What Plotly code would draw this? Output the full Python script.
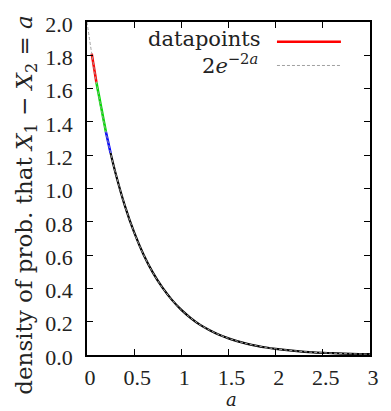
import plotly.graph_objects as go

# values
a_red = [0.05, 0.075, 0.10]
y_red = [1.810, 1.721, 1.637]
a_green = [0.10, 0.15, 0.20]
y_green = [1.637, 1.482, 1.341]
a_blue = [0.20, 0.25]
y_blue = [1.341, 1.213]
a_black = [0.25, 0.30, 0.40, 0.50, 0.60, 0.70, 0.80, 0.90, 1.00, 1.10, 1.20, 1.30,
           1.40, 1.50, 1.60, 1.70, 1.80, 1.90, 2.00, 2.20, 2.40, 2.60, 2.80, 3.00]
y_black = [1.213, 1.098, 0.899, 0.736, 0.602, 0.493, 0.404, 0.331, 0.271, 0.222, 0.181, 0.149,
           0.122, 0.100, 0.082, 0.067, 0.055, 0.045, 0.037, 0.025, 0.016, 0.011, 0.007, 0.005]
a_fit = [0.00, 0.05, 0.10, 0.15, 0.20, 0.25, 0.30, 0.40, 0.50, 0.60, 0.70, 0.80, 0.90, 1.00,
         1.10, 1.20, 1.30, 1.40, 1.50, 1.60, 1.70, 1.80, 1.90, 2.00, 2.20, 2.40, 2.60, 2.80, 3.00]
y_fit = [2.000, 1.810, 1.637, 1.482, 1.341, 1.213, 1.098, 0.899, 0.736, 0.602, 0.493, 0.404,
         0.331, 0.271, 0.222, 0.181, 0.149, 0.122, 0.100, 0.082, 0.067, 0.055, 0.045, 0.037,
         0.025, 0.016, 0.011, 0.007, 0.005]
x_ticks = [0, 0.5, 1, 1.5, 2, 2.5, 3]
x_ticklabels = ["0", "0.5", "1", "1.5", "2", "2.5", "3"]
y_ticks = [0.0, 0.2, 0.4, 0.6, 0.8, 1.0, 1.2, 1.4, 1.6, 1.8, 2.0]

TICKFONT = dict(family="Liberation Serif", size=22, color="#222")
TEXTFAM = "DejaVu Serif"
TXT = "#222"
W, H = 391, 411
L, R, T, B = 87, 12, 18, 56
pw, ph = W - L - R, H - T - B

fig = go.Figure()
fig.add_trace(go.Scatter(x=a_black, y=y_black, mode="lines", line=dict(color="black", width=2.2, shape="spline"), showlegend=False))
fig.add_trace(go.Scatter(x=a_red, y=y_red, mode="lines", line=dict(color="#ff0000", width=2.5), showlegend=False))
fig.add_trace(go.Scatter(x=a_green, y=y_green, mode="lines", line=dict(color="#00dd00", width=2.5), showlegend=False))
fig.add_trace(go.Scatter(x=a_blue, y=y_blue, mode="lines", line=dict(color="#0000ff", width=2.5), showlegend=False))
fig.add_trace(go.Scatter(x=a_fit, y=y_fit, mode="lines", line=dict(color="#a0a0a0", width=1, dash="3px,2px", shape="spline"), showlegend=False))

axis_common = dict(showgrid=False, zeroline=False, showline=True, linecolor="black", linewidth=1.5,
                   mirror="ticks", ticks="inside", ticklen=6, tickwidth=1.2, tickcolor="black",
                   tickfont=TICKFONT)
fig.update_xaxes(range=[0, 3], tickvals=x_ticks, ticktext=x_ticklabels,
                 ticklabelstandoff=2, ticklabelshift=3, **axis_common)
fig.update_yaxes(range=[0, 2], tickvals=y_ticks, tickformat=".1f",
                 ticklabelstandoff=8, ticklabelshift=2, **axis_common)

def px_x(p):
    return (p - L) / pw

def px_y(p):
    return (H - B - p) / ph

def ann(text, x, y, size, xanchor="center", angle=0):
    return dict(text=text, x=px_x(x), y=px_y(y), xref="paper", yref="paper", showarrow=False,
                xanchor=xanchor, yanchor="middle", textangle=angle,
                font=dict(family=TEXTFAM, size=size, color=TXT))

anns = [
    ann("<i>a</i>", 236, 400.5, 18),
    ann("density of prob. that <i>X</i><sub>1</sub> − <i>X</i><sub>2</sub> = <i>a</i>", 24, 203, 23, angle=-90),
    ann("datapoints", 268, 35, 21, xanchor="right"),
    ann("2<i>e</i><sup>−2<i>a</i></sup>", 265, 60, 21, xanchor="right"),
]
shapes = [
    dict(type="line", xref="paper", yref="paper", x0=px_x(283), x1=px_x(349), y0=px_y(38), y1=px_y(38),
         line=dict(color="#ff0000", width=2.5)),
    dict(type="line", xref="paper", yref="paper", x0=px_x(283), x1=px_x(349), y0=px_y(62), y1=px_y(62),
         line=dict(color="#a0a0a0", width=1, dash="3px,2px")),
]

fig.update_layout(width=W, height=H, margin=dict(l=L, r=R, t=T, b=B),
                  paper_bgcolor="white", plot_bgcolor="white",
                  annotations=anns, shapes=shapes, showlegend=False)
fig.write_html("out.html", config={"displayModeBar": False},
               post_script="document.body.style.margin='0';document.body.style.overflow='hidden';")
